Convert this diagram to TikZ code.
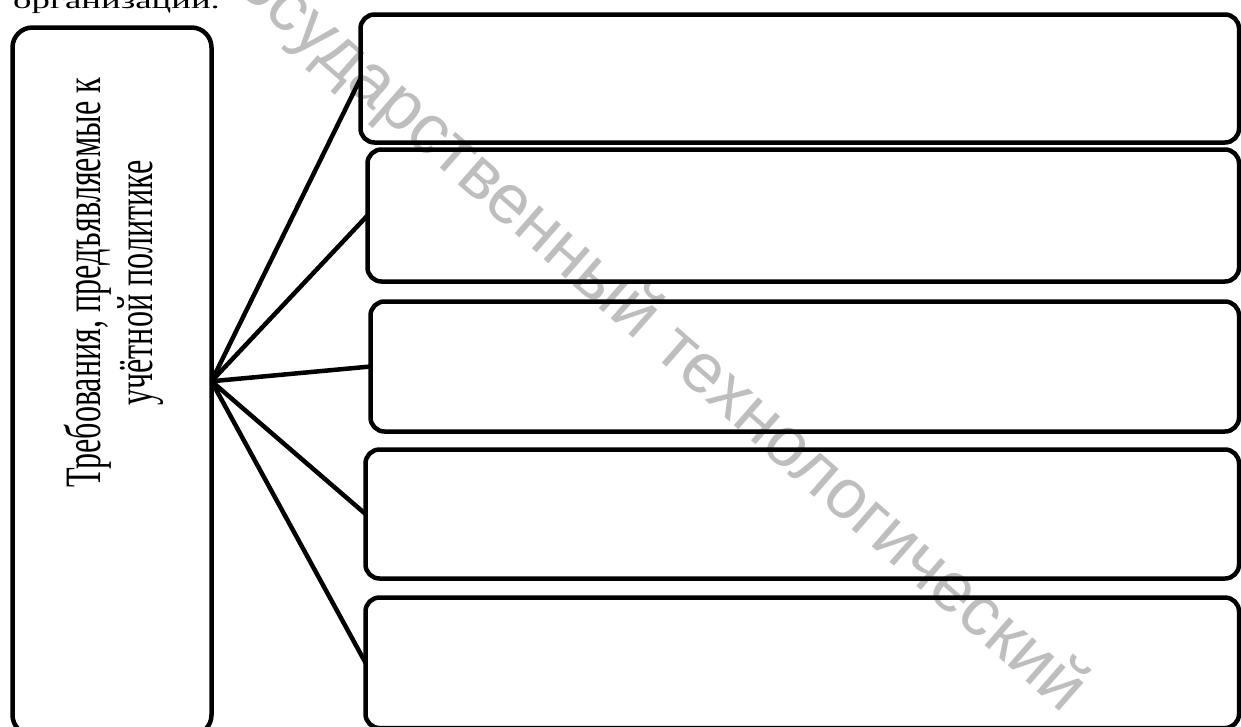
\documentclass[tikz,border=0pt]{standalone}
\usepackage{fontspec}
\setmainfont{Liberation Serif}
\newfontfamily\wmfont{Liberation Sans}
\usepackage{graphicx}
\definecolor{wmgray}{RGB}{190,190,190}
\newlength\wmA \newlength\wmB \newlength\wmC \newlength\wmOff
\begin{document}
\settowidth\wmA{\wmfont\fontsize{10}{12}\selectfont дарственный }%
\settowidth\wmB{\wmfont\fontsize{10}{12}\selectfont т}%
\settowidth\wmC{\wmfont\fontsize{10}{12}\selectfont д}%
\pgfmathsetmacro\wmsize{10*445/(\wmA+0.5*\wmB-0.5*\wmC)}%
\settowidth\wmOff{\wmfont\fontsize{\wmsize}{\wmsize}\selectfont государственный }%
\begin{tikzpicture}[x=1pt,y=-1pt,
  box/.style={draw, line width=4.5pt, rounded corners=14pt, inner sep=0pt, outer sep=0pt},
  bigbox/.style={box, rounded corners=20pt},
  conn/.style={line width=4.5pt},
  wmark/.style={rotate=-41.2, text=wmgray, inner sep=0pt, font=\wmfont\fontsize{\wmsize}{\wmsize}\selectfont},
  vtext/.style={rotate=90, inner sep=0pt}]
\useasboundingbox (0,0) rectangle (1241,726);
\clip (0,0) rectangle (1241,726);
% watermark
\node[wmark, anchor=base west, xshift=-\wmOff] (wm) at (652,354) {государственный технологический};
% text above (cut)
\node[anchor=base west, inner sep=0pt] (top) at (13,8) {\scalebox{1}[0.65]{\fontsize{36.8}{40}\selectfont организаций.}};
% left box
\node[bigbox, minimum width=199pt, minimum height=707.5pt] (L) at (112,381.25) {};
\node[vtext] (Lt) at (116,283) {\scalebox{0.63}[1]{\fontsize{51}{52}\selectfont\begin{tabular}{@{}c@{}}Требования, предъявляемые к\\ учётной политике\end{tabular}}};
% right boxes
\node[box, minimum width=878.5pt, minimum height=128pt] (b1) at (799.75,78.5) {};
\node[box, minimum width=871.5pt, minimum height=132pt] (b2) at (803.25,215.5) {};
\node[box, minimum width=868.5pt, minimum height=130pt] (b3) at (804.75,366.5) {};
\node[box, minimum width=873.5pt, minimum height=129pt] (b4) at (802.25,514) {};
\node[box, minimum width=873.5pt, minimum height=130.5pt] (b5) at (802.25,662.75) {};
% connectors
\foreach \b in {b1,b2,b3,b4,b5}
  \draw[conn] (L.east) -- (\b.west);
\end{tikzpicture}
\end{document}
